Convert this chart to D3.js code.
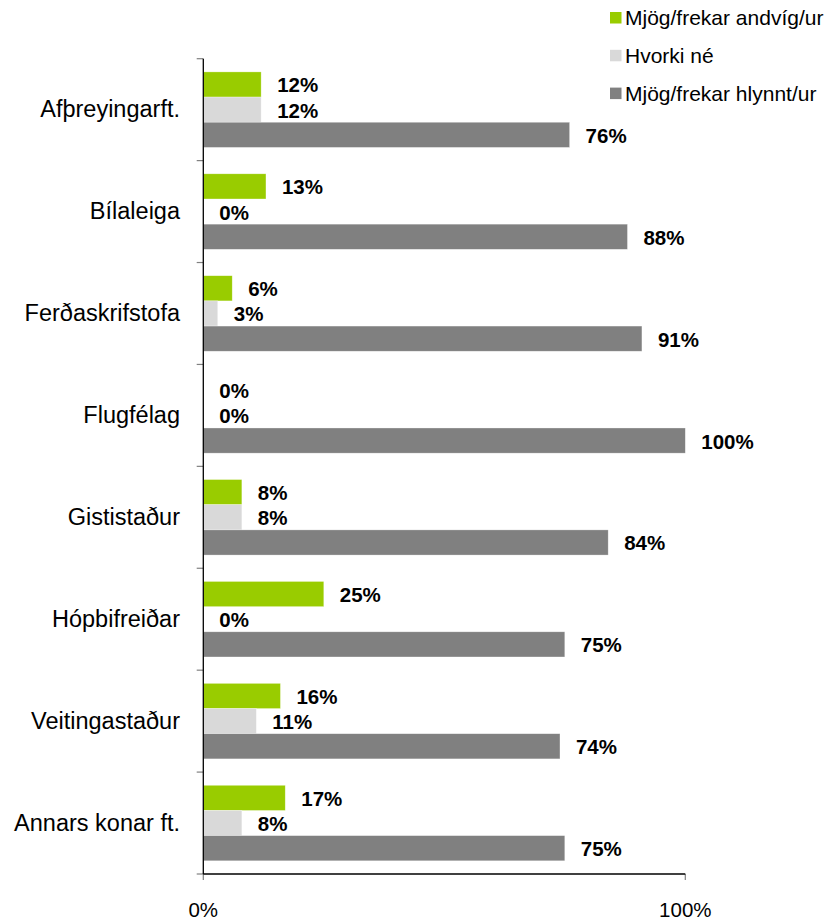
<!DOCTYPE html>
<html>
<head>
<meta charset="utf-8">
<script src="https://cdn.jsdelivr.net/npm/d3@7"></script>
<style>
  html, body { margin: 0; padding: 0; background: #fff; }
  svg { display: block; font-family: "Liberation Sans", Arial, sans-serif; }
</style>
</head>
<body>
<svg id="chart" width="827" height="920"></svg>
<script>
const categories = ["Afþreyingarft.", "Bílaleiga", "Ferðaskrifstofa", "Flugfélag", "Gististaður", "Hópbifreiðar", "Veitingastaður", "Annars konar ft."];
const seriesNames = ["Mjög/frekar andvíg/ur", "Hvorki né", "Mjög/frekar hlynnt/ur"];
const seriesColors = ["#99cc00", "#d9d9d9", "#808080"];
const andvig = [12, 13, 6, 0, 8, 25, 16, 17];
const hvorki = [12, 0, 3, 0, 8, 0, 11, 8];
const hlynnt = [76, 88, 91, 100, 84, 75, 74, 75];
const xTicks = [0, 100];
const xTickLabels = ["0%", "100%"];

const seriesValues = [andvig, hvorki, hlynnt];

const svg = d3.select("#chart");

const x = d3.scaleLinear().domain([0, 100]).range([203.3, 685.3]);
const y = d3.scaleBand().domain(categories).range([58.7, 874]).padding(0);
const bw = y.bandwidth();
const inner = d3.scaleBand().domain(seriesNames).range([13.2, bw - 13.2]).padding(0);

// bars
const groups = svg.append("g").selectAll("g")
  .data(categories)
  .join("g")
  .attr("transform", d => `translate(0,${y(d)})`);

groups.each(function(cat, ci) {
  const g = d3.select(this);
  seriesNames.forEach((s, si) => {
    const v = seriesValues[si][ci];
    if (v > 0) {
      g.append("rect")
        .attr("x", x(0))
        .attr("y", inner(s))
        .attr("width", x(v) - x(0))
        .attr("height", inner.bandwidth())
        .attr("fill", seriesColors[si])
        .attr("stroke", "rgba(255,255,255,0.5)")
        .attr("stroke-width", 0.6);
    }
    g.append("text")
      .attr("x", x(v) + 16)
      .attr("y", inner(s) + inner.bandwidth() / 2 + 8)
      .attr("font-size", "20.5px")
      .attr("font-weight", "bold")
      .attr("fill", "#000")
      .text(Math.round(v) + "%");
  });
  g.append("text")
    .attr("x", 180)
    .attr("y", bw / 2 + 7.8)
    .attr("text-anchor", "end")
    .attr("font-size", "23.5px")
    .attr("fill", "#000")
    .text(cat);
});

// y axis
const boundaries = categories.map(c => y(c)).concat([y.range()[1]]);
svg.append("g").selectAll("line")
  .data(boundaries)
  .join("line")
  .attr("x1", x(0) - 6.6).attr("x2", x(0))
  .attr("y1", d => d).attr("y2", d => d)
  .attr("stroke", "#808080").attr("stroke-width", 1.2);
svg.append("line")
  .attr("x1", x(0)).attr("x2", x(0))
  .attr("y1", y.range()[0]).attr("y2", y.range()[1])
  .attr("stroke", "#000").attr("stroke-width", 1.3);

// x axis
const yAxisY = y.range()[1];
svg.append("g").selectAll("line")
  .data(xTicks)
  .join("line")
  .attr("x1", d => x(d)).attr("x2", d => x(d))
  .attr("y1", yAxisY).attr("y2", yAxisY + 6)
  .attr("stroke", "#808080").attr("stroke-width", 1.2);
svg.append("line")
  .attr("x1", x(0)).attr("x2", x(100))
  .attr("y1", yAxisY).attr("y2", yAxisY)
  .attr("stroke", "#000").attr("stroke-width", 1.3);
svg.append("g").selectAll("text")
  .data(xTicks)
  .join("text")
  .attr("x", d => x(d))
  .attr("y", 916.5)
  .attr("text-anchor", "middle")
  .attr("font-size", "20.5px")
  .attr("fill", "#000")
  .text((d, i) => xTickLabels[i]);

// legend
const legend = svg.append("g").selectAll("g")
  .data(seriesNames)
  .join("g")
  .attr("transform", (d, i) => `translate(610,${12 + i * 37.8})`);
legend.append("rect")
  .attr("x", 0).attr("y", 0)
  .attr("width", 11.5).attr("height", 11.5)
  .attr("fill", (d, i) => seriesColors[i]);
legend.append("text")
  .attr("x", 15)
  .attr("y", 13)
  .attr("font-size", "21px")
  .attr("fill", "#000")
  .text(d => d);
</script>
</body>
</html>
